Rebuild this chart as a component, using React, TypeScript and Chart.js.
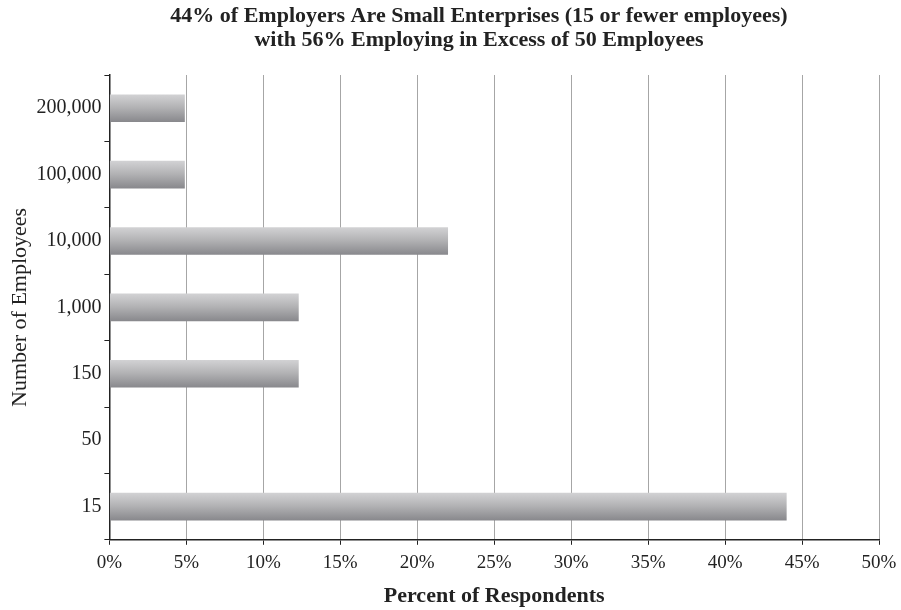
import React, { useEffect, useRef } from "react";
import { Chart, registerables } from "chart.js";

Chart.register(...registerables);

const categories: string[] = ["200,000", "100,000", "10,000", "1,000", "150", "50", "15"];
const percentValues: number[] = [4.9, 4.9, 22, 12.3, 12.3, 0, 44];
const titleLines: string[] = [
  "44% of Employers Are Small Enterprises (15 or fewer employees)",
  "with 56% Employing in Excess of 50 Employees",
];
const xAxisTitle = "Percent of Respondents";
const yAxisTitle = "Number of Employees";

const FONT = "'Liberation Serif', 'DejaVu Serif', serif";

const titlePlugin = {
  id: "twoLineTitle",
  afterDraw(chart: any) {
    const ctx = chart.ctx;
    ctx.save();
    ctx.fillStyle = "#222";
    ctx.font = "bold 22px " + FONT;
    ctx.textAlign = "center";
    ctx.textBaseline = "alphabetic";
    const cx = 479;
    ctx.fillText(titleLines[0], cx, 22);
    ctx.fillText(titleLines[1], cx, 46);
    ctx.restore();
  },
};

export default function App() {
  const ref = useRef<HTMLCanvasElement | null>(null);
  useEffect(() => {
    if (!ref.current) return;
    const chart = new Chart(ref.current, {
      type: "bar",
      data: {
        labels: categories,
        datasets: [
          {
            data: percentValues,
            categoryPercentage: 1,
            barPercentage: 0.415,
            backgroundColor: (ctx: any) => {
              const c = ctx.chart;
              const ys = c.scales && c.scales.y;
              if (!ys || ctx.dataIndex === undefined) return "#a8a8aa";
              const center = ys.getPixelForValue(ctx.dataIndex);
              const half = (ys.height / categories.length) * 0.415 / 2;
              if (!isFinite(center) || !isFinite(half) || half <= 0) return "#a8a8aa";
              const g = c.ctx.createLinearGradient(0, center - half, 0, center + half);
              g.addColorStop(0, "#d2d2d4");
              g.addColorStop(0.45, "#b4b4b6");
              g.addColorStop(1, "#88888c");
              return g;
            },
            borderWidth: 0,
          },
        ],
      },
      plugins: [titlePlugin],
      options: {
        indexAxis: "y",
        animation: false,
        responsive: false,
        maintainAspectRatio: false,
        layout: { padding: { left: 7, right: 22, top: 75, bottom: 0 } },
        plugins: {
          legend: { display: false },
          tooltip: { enabled: false },
          title: { display: false },
        },
        scales: {
          x: {
            min: 0,
            max: 50,
            afterFit: (scale: any) => {
              scale.paddingRight = 20;
            },
            ticks: {
              stepSize: 5,
              color: "#222",
              font: { family: FONT, size: 19 },
              padding: 7,
              callback: (v: any) => v + "%",
            },
            grid: { color: "#a6a6a6", tickColor: "#222", tickLength: 5, lineWidth: 1 },
            border: { color: "#222", width: 1.5 },
            title: {
              display: true,
              text: xAxisTitle,
              color: "#222",
              font: { family: FONT, size: 22, weight: "bold" },
              padding: { top: 2, bottom: 0 },
            },
          },
          y: {
            ticks: {
              color: "#222",
              font: { family: FONT, size: 20 },
              padding: 3,
            },
            grid: { display: true, drawOnChartArea: false, tickColor: "#222", tickLength: 5, offset: true },
            border: { color: "#222", width: 1.5 },
            title: {
              display: true,
              text: yAxisTitle,
              color: "#222",
              font: { family: FONT, size: 22 },
              padding: { top: 0, bottom: 0 },
            },
          },
        },
      },
    });
    chart.update();
    return () => chart.destroy();
  }, []);
  return (
    <div style={{ position: "fixed", left: 0, top: 0, width: 901, height: 610, background: "#fff" }}>
      <canvas ref={ref} width={901} height={610} style={{ width: 901, height: 610 }} />
    </div>
  );
}
